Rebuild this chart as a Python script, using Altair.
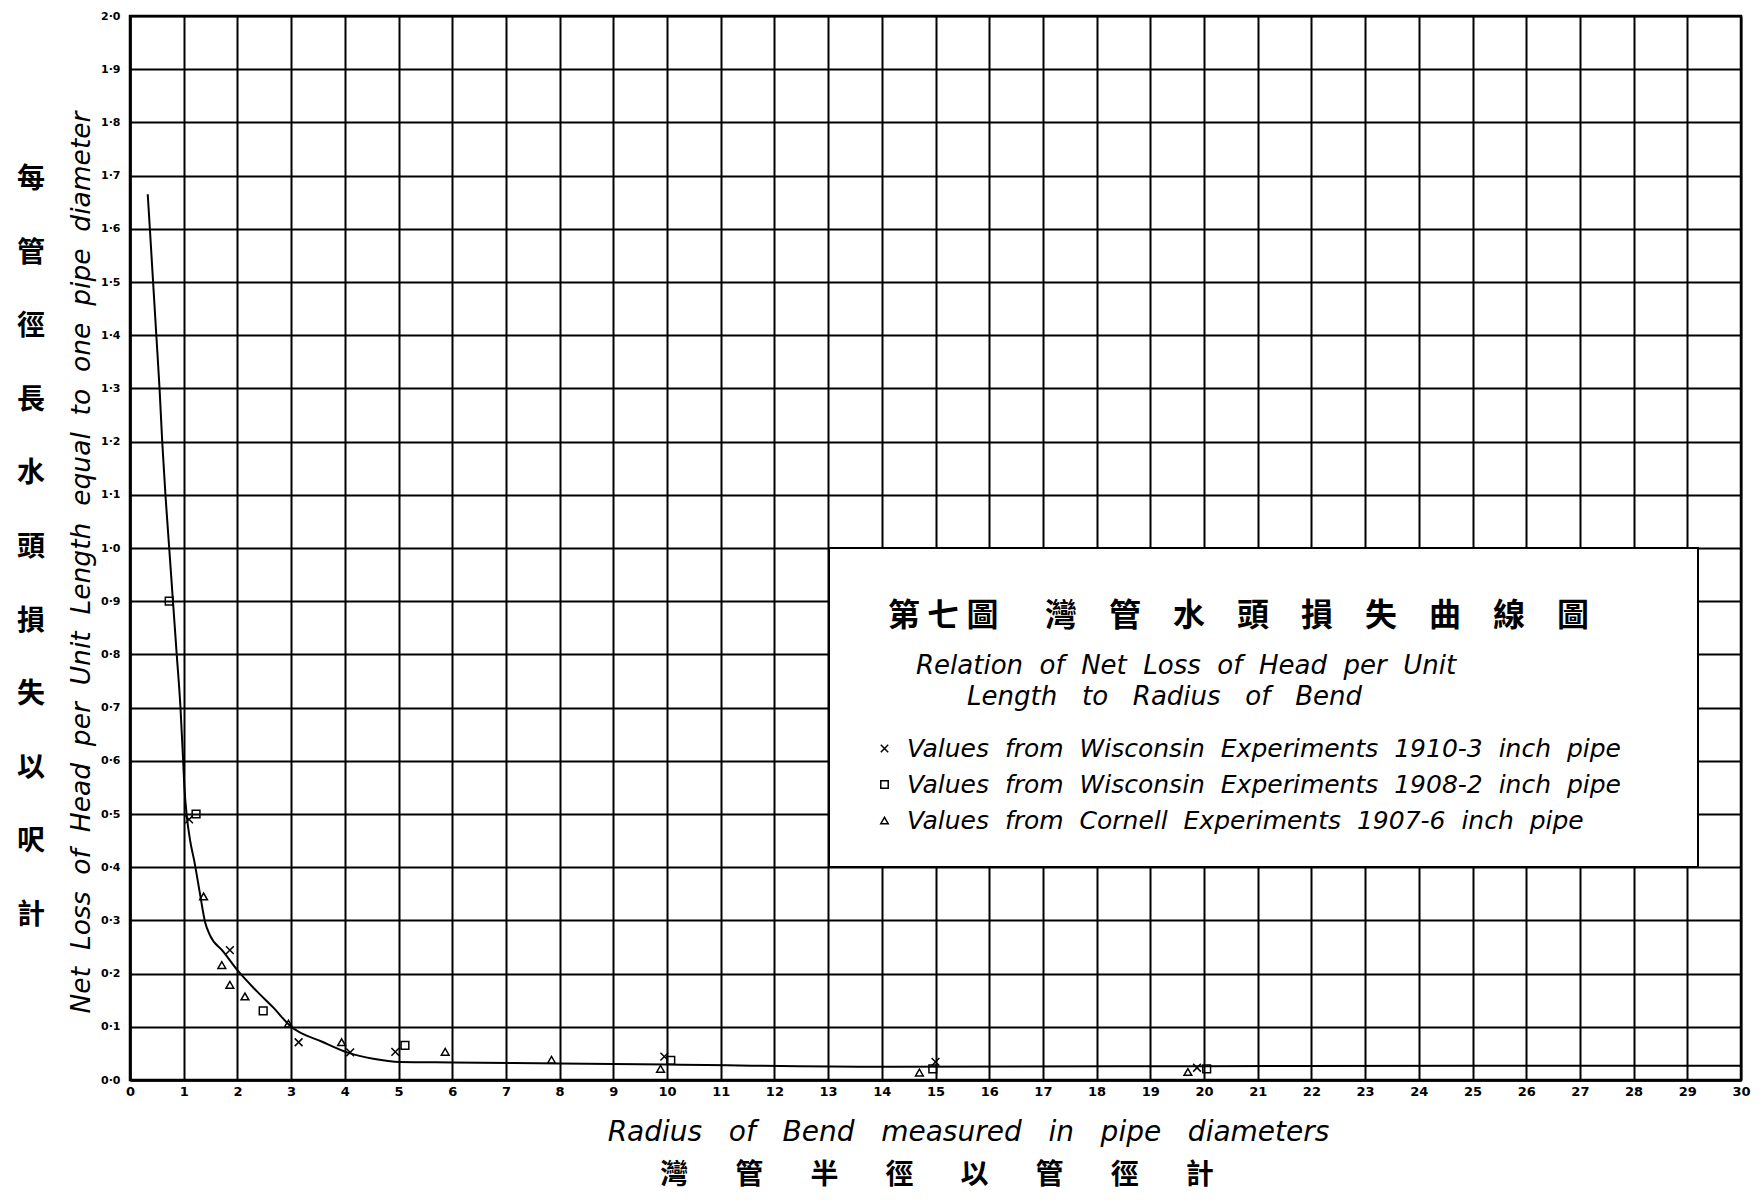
import altair as alt
import pandas as pd

# ---------------- data ----------------
curve_x = [0.33, 0.37, 0.43, 0.49, 0.55, 0.60, 0.66, 0.73, 0.80, 0.87, 0.94, 0.99,
           1.01, 1.06, 1.12, 1.20, 1.30, 1.40, 1.49, 1.74, 2.02, 2.36, 2.67, 2.98,
           3.60, 4.07, 4.53, 5.03, 6.0, 8.0, 10.0, 14.0, 20.0, 25.0, 30.0]
curve_y = [1.665, 1.60, 1.50, 1.40, 1.30, 1.20, 1.10, 1.00, 0.90, 0.80, 0.70, 0.60,
           0.556, 0.494, 0.45, 0.41, 0.352, 0.296, 0.272, 0.241, 0.204, 0.167, 0.136, 0.102,
           0.071, 0.051, 0.040, 0.034, 0.033, 0.031, 0.029, 0.025, 0.026, 0.027, 0.027]

wis1910_x = [1.10, 1.86, 3.14, 4.10, 4.94, 9.95, 15.0, 19.87]
wis1910_y = [0.49, 0.244, 0.071, 0.052, 0.053, 0.044, 0.034, 0.023]

wis1908_x = [0.73, 1.23, 2.48, 5.12, 10.07, 14.95, 20.05]
wis1908_y = [0.90, 0.50, 0.13, 0.065, 0.037, 0.021, 0.021]

cornell_x = [1.37, 1.71, 1.86, 2.14, 2.95, 3.94, 5.87, 7.85, 9.88, 14.7, 19.7]
cornell_y = [0.345, 0.216, 0.179, 0.157, 0.106, 0.071, 0.053, 0.038, 0.021, 0.014, 0.015]

NB = "\u00a0"  # non-collapsing space, used only to widen word gaps like the hand lettering


def spaced(text, extra):
    return text.replace(" ", " " + NB * extra)


series_names = [
    spaced("Values from Wisconsin Experiments 1910-3 inch pipe", 1),
    spaced("Values from Wisconsin Experiments 1908-2 inch pipe", 1),
    spaced("Values from Cornell Experiments 1907-6 inch pipe", 1),
]

x_ticks = [0, 1, 2, 3, 4, 5, 6, 7, 8, 9, 10, 11, 12, 13, 14, 15, 16, 17, 18, 19, 20,
           21, 22, 23, 24, 25, 26, 27, 28, 29, 30]
y_ticks = [0.0, 0.1, 0.2, 0.3, 0.4, 0.5, 0.6, 0.7, 0.8, 0.9, 1.0,
           1.1, 1.2, 1.3, 1.4, 1.5, 1.6, 1.7, 1.8, 1.9, 2.0]

title_zh = "第 七 圖　" + NB * 2 + "灣　管　水　頭　損　失　曲　線　圖"
subtitle_1 = spaced("Relation of Net Loss of Head per Unit", 1)
subtitle_2 = spaced("Length to Radius of Bend", 2)
x_title_en = spaced("Radius of Bend measured in pipe diameters", 2)
x_title_zh = ("　" + NB * 3).join(["灣", "管", "半", "徑", "以", "管", "徑", "計"])
y_title_en = spaced("Net Loss of Head per Unit Length equal to one pipe diameter", 1)
y_title_zh = "\n".join(["每", "管", "徑", "長", "水", "頭", "損", "失", "以", "呎", "計"])

# ---------------- tables ----------------
curve_df = pd.DataFrame({"x": curve_x, "y": curve_y})
points_df = pd.concat([
    pd.DataFrame({"x": wis1910_x, "y": wis1910_y, "series": series_names[0]}),
    pd.DataFrame({"x": wis1908_x, "y": wis1908_y, "series": series_names[1]}),
    pd.DataFrame({"x": cornell_x, "y": cornell_y, "series": series_names[2]}),
], ignore_index=True)

W, H = 1611, 1064
EN_FONT = "DejaVu Sans"
ZH_FONT = "Noto Sans CJK TC"

xscale = alt.Scale(domain=[0, 30], nice=False, zero=False)
yscale = alt.Scale(domain=[0, 2.0], nice=False, zero=False)

xaxis = alt.Axis(
    values=x_ticks, grid=True, gridColor="black", gridWidth=2, gridOpacity=1,
    domainColor="black", domainWidth=2.5, ticks=False, labelOverlap=False,
    labelFontSize=13, labelFontWeight="bold", labelFont=EN_FONT, labelColor="black",
    labelPadding=5, labelFlush=False,
    title=x_title_en, titleFont=EN_FONT, titleFontStyle="italic", titleFontWeight="normal",
    titleFontSize=28, titleColor="black", titleX=838, titleY=52,
    titleAlign="center", titleBaseline="middle",
)
yaxis = alt.Axis(
    values=y_ticks, grid=True, gridColor="black", gridWidth=2, gridOpacity=1,
    domainColor="black", domainWidth=2.5, ticks=False, labelOverlap=False,
    labelExpr="replace(format(datum.value, '.1f'), '.', '·')",
    labelFontSize=11, labelFontWeight="bold", labelFont=EN_FONT, labelColor="black",
    labelPadding=10, labelFlush=False,
    title=y_title_en, titleFont=EN_FONT, titleFontStyle="italic", titleFontWeight="normal",
    titleFontSize=26.5, titleColor="black", titleX=-49, titleY=546, titleAngle=270,
    titleAlign="center", titleBaseline="middle",
)

one = pd.DataFrame({"a": [0]})

box = alt.Chart(one).mark_rect(fill="white", stroke="black", strokeWidth=2).encode(
    x=alt.value(699), x2=alt.value(1568), y=alt.value(532), y2=alt.value(851)
)

curve = alt.Chart(curve_df).mark_line(color="black", strokeWidth=2, interpolate="monotone").encode(
    x=alt.X("x:Q", scale=xscale, axis=xaxis),
    y=alt.Y("y:Q", scale=yscale, axis=yaxis),
)

x_path = "M-1,-1L1,1M-1,1L1,-1"
points = alt.Chart(points_df).mark_point(filled=False, color="black", strokeWidth=1.5, size=60, opacity=1).encode(
    x=alt.X("x:Q", scale=xscale, axis=xaxis),
    y=alt.Y("y:Q", scale=yscale, axis=yaxis),
    shape=alt.Shape(
        "series:N",
        scale=alt.Scale(domain=series_names, range=[x_path, "square", "triangle-up"]),
        legend=alt.Legend(
            title=None, orient="none", legendX=742, legendY=720,
            labelFont=EN_FONT, labelFontStyle="italic", labelFontSize=25, labelColor="black",
            labelOffset=10, rowPadding=10, symbolSize=55, symbolStrokeWidth=1.5,
            symbolStrokeColor="black", symbolFillColor="white", symbolType="square",
            labelLimit=1000, padding=0,
        ),
    ),
)


def label(txt, x, y, size, font, style="normal", align="left", weight="normal"):
    return alt.Chart(one).mark_text(
        text=txt, font=font, fontSize=size, fontStyle=style, fontWeight=weight,
        align=align, baseline="middle", color="black"
    ).encode(x=alt.value(x), y=alt.value(y))


t_title = label(title_zh, 758, 600, 32, ZH_FONT, weight="bold")
t_sub1 = label(subtitle_1, 786, 650, 26, EN_FONT, style="italic")
t_sub2 = label(subtitle_2, 837, 681, 26, EN_FONT, style="italic")
t_xzh = label(x_title_zh, 807, 1160, 28, ZH_FONT, align="center", weight="bold")
t_yzh = alt.Chart(one).mark_text(
    text=y_title_zh, font=ZH_FONT, fontSize=28, fontWeight="bold", align="center", baseline="top",
    lineBreak="\n", lineHeight=73.6, color="black"
).encode(x=alt.value(-99), y=alt.value(150))

chart = alt.layer(box, curve, points, t_title, t_sub1, t_sub2, t_xzh, t_yzh).properties(
    width=W, height=H,
    autosize=alt.AutoSizeParams(type="none"),
    padding={"left": 122, "top": 8, "right": 14, "bottom": 112},
    background="white",
).configure_view(stroke="black", strokeWidth=2.5)

chart.save("out.html", embed_options={"renderer": "svg", "actions": False})
